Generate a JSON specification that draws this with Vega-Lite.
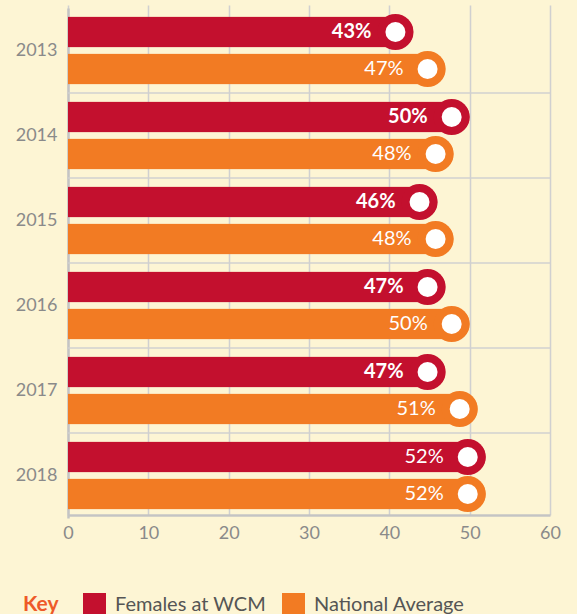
{
  "$schema": "https://vega.github.io/schema/vega-lite/v6.json",
  "width": 482,
  "height": 507,
  "autosize": "none",
  "padding": {"left": 68, "top": 8, "right": 27, "bottom": 99},
  "background": "#fdf5d4",
  "config": {"view": {"stroke": null}, "font": "Lato"},
  "data": {"values": [
    {"year": "2013", "series": "Females at WCM", "value": 43, "label": "43%"},
    {"year": "2013", "series": "National Average", "value": 47, "label": "47%"},
    {"year": "2014", "series": "Females at WCM", "value": 50, "label": "50%"},
    {"year": "2014", "series": "National Average", "value": 48, "label": "48%"},
    {"year": "2015", "series": "Females at WCM", "value": 46, "label": "46%"},
    {"year": "2015", "series": "National Average", "value": 48, "label": "48%"},
    {"year": "2016", "series": "Females at WCM", "value": 47, "label": "47%"},
    {"year": "2016", "series": "National Average", "value": 50, "label": "50%"},
    {"year": "2017", "series": "Females at WCM", "value": 47, "label": "47%"},
    {"year": "2017", "series": "National Average", "value": 51, "label": "51%"},
    {"year": "2018", "series": "Females at WCM", "value": 52, "label": "52%"},
    {"year": "2018", "series": "National Average", "value": 52, "label": "52%"}
  ]},
  "encoding": {
    "y": {
      "field": "year", "type": "nominal", "sort": "ascending", "title": null,
      "scale": {"range": [0, 510], "paddingInner": 0, "paddingOuter": 0},
      "axis": {"domain": true, "domainColor": "#c4c4c4", "domainWidth": 2.5, "ticks": false, "grid": false,
               "labelFontSize": 18, "labelColor": "#8a8a8a", "labelPadding": 11, "labelFont": "Lato"}
    }
  },
  "layer": [
    {
      "transform": [{"filter": "datum.series === 'Females at WCM' && datum.year !== '2013'"}],
      "mark": {"type": "rule", "color": "#d0d0d0", "strokeWidth": 1.5},
      "encoding": {"y": {"field": "year", "type": "nominal", "bandPosition": 0}}
    },
    {
      "mark": {"type": "bar", "cornerRadiusEnd": 15.5},
      "encoding": {
        "x": {"field": "value", "type": "quantitative", "title": null,
              "scale": {"domain": [0, 60], "nice": false},
              "axis": {"values": [0, 10, 20, 30, 40, 50, 60], "grid": true, "gridColor": "#d0d0d0", "gridWidth": 1.5,
                       "ticks": false, "domainColor": "#c4c4c4", "domainWidth": 2.5, "labelFontSize": 18,
                       "labelColor": "#8a8a8a", "labelPadding": 9, "labelFlush": false, "labelFont": "Lato"}},
        "yOffset": {"field": "series", "type": "nominal", "scale": {"paddingInner": 0.1622, "paddingOuter": 0.2297}},
        "color": {"field": "series", "type": "nominal",
                  "scale": {"domain": ["Females at WCM", "National Average"], "range": ["#c3102e", "#f27b23"]},
                  "legend": {"orient": "none", "legendX": -45, "legendY": 585, "direction": "horizontal",
                             "title": "Key", "titleOrient": "left", "titleFontSize": 21, "titleFontWeight": "bold",
                             "titleColor": "#ee5a28", "titleFont": "Lato", "titlePadding": 24, "titleBaseline": "middle",
                             "symbolType": "square", "symbolSize": 529, "symbolStrokeWidth": 0, "symbolOpacity": 1,
                             "labelFontSize": 20, "labelColor": "#555555", "labelFont": "Lato", "labelOffset": 9,
                             "columnPadding": 16}}
      }
    },
    {
      "mark": {"type": "point", "filled": true, "size": 1296, "xOffset": -18, "opacity": 1},
      "encoding": {
        "x": {"field": "value", "type": "quantitative"},
        "yOffset": {"field": "series", "type": "nominal"},
        "color": {"field": "series", "type": "nominal"}
      }
    },
    {
      "mark": {"type": "point", "filled": true, "size": 400, "xOffset": -18, "opacity": 1, "color": "white"},
      "encoding": {
        "x": {"field": "value", "type": "quantitative"},
        "yOffset": {"field": "series", "type": "nominal"}
      }
    },
    {
      "transform": [{"filter": "datum.series === 'Females at WCM' && datum.year !== '2018'"}],
      "mark": {"type": "text", "align": "right", "baseline": "middle", "dx": -42, "color": "white", "fontSize": 20, "fontWeight": "bold", "font": "Lato"},
      "encoding": {
        "x": {"field": "value", "type": "quantitative"},
        "yOffset": {"field": "series", "type": "nominal"},
        "text": {"field": "label"}
      }
    },
    {
      "transform": [{"filter": "!(datum.series === 'Females at WCM' && datum.year !== '2018')"}],
      "mark": {"type": "text", "align": "right", "baseline": "middle", "dx": -42, "color": "white", "fontSize": 20, "font": "Lato"},
      "encoding": {
        "x": {"field": "value", "type": "quantitative"},
        "yOffset": {"field": "series", "type": "nominal"},
        "text": {"field": "label"}
      }
    }
  ]
}
